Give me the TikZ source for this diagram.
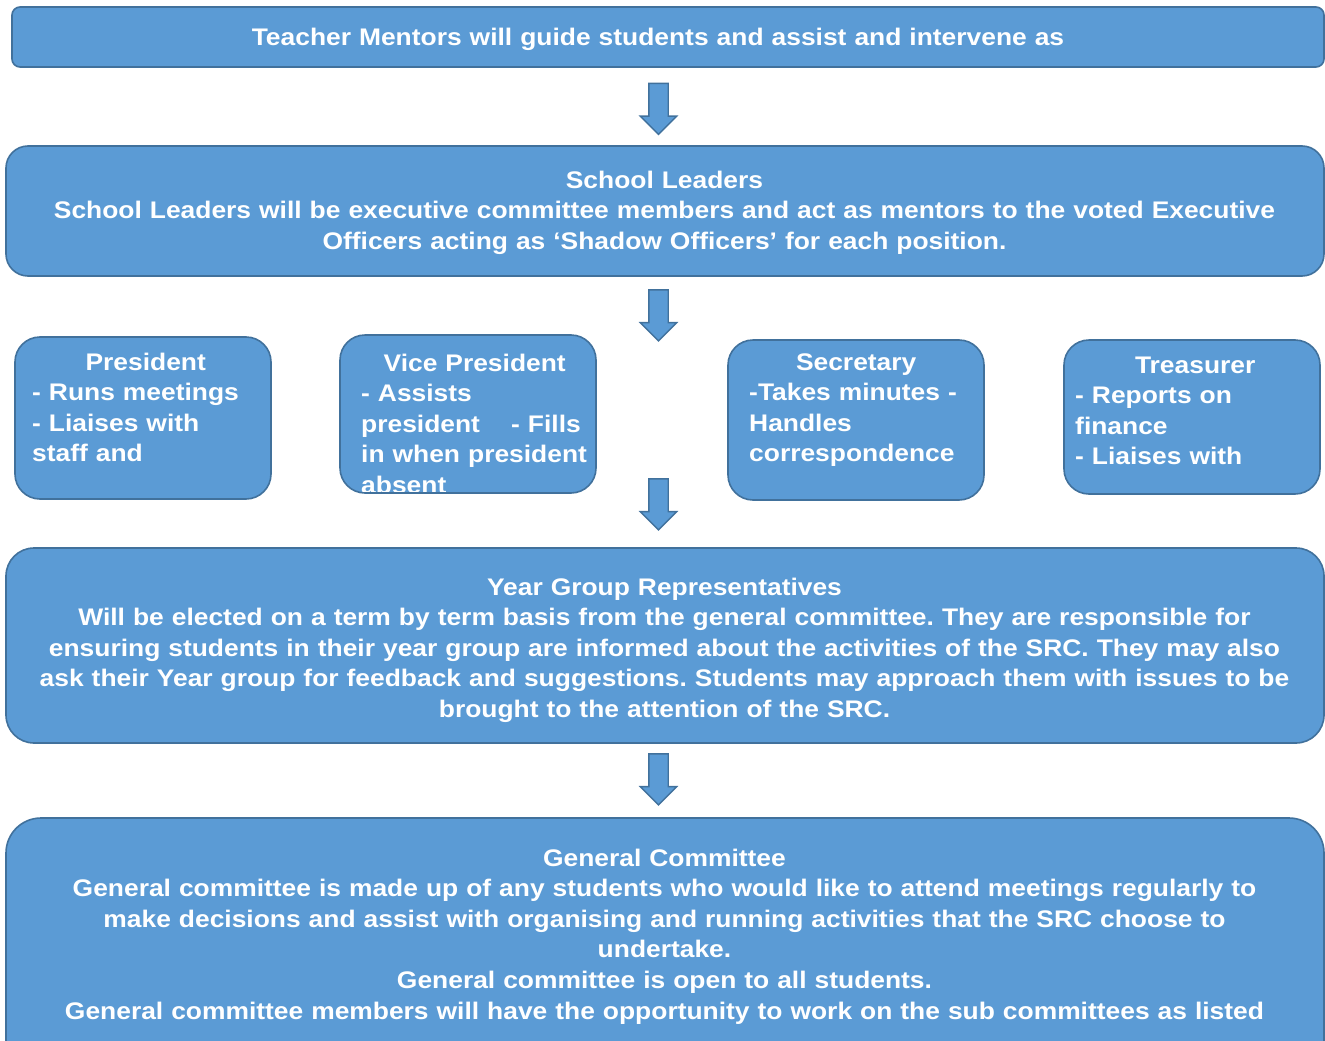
\documentclass[tikz,border=0pt]{standalone}
\usepackage{fontspec}
\setmainfont{Liberation Sans}[FakeStretch=1.10]
\usetikzlibrary{shapes.arrows}
\definecolor{boxfill}{HTML}{5B9BD5}
\definecolor{boxline}{HTML}{41719C}
\frenchspacing
\begin{document}
\begin{tikzpicture}[x=1pt,y=-1pt,
  box/.style={draw=boxline, fill=boxfill, line width=1.6pt, rounded corners=#1, inner sep=0pt},
  box/.default=22pt,
  blockarrow/.style={single arrow, draw=boxline, fill=boxfill, line width=1.4pt,
    minimum height=51pt, minimum width=35pt, single arrow head extend=8.5pt,
    single arrow head indent=0pt, inner xsep=0pt, inner ysep=9pt, rotate=-90},
  txt/.style={text=white, font=\bfseries\fontsize{24}{30.6}\selectfont, inner sep=0pt},
  bigtxt/.style={txt, anchor=base, text width=1318pt, align=center},
  offtxt/.style={txt, anchor=base west, text width=250pt, align=left}
]
\useasboundingbox (0,0) rectangle (1325,1041);
\clip (0,0) rectangle (1325,1041);

% boxes
\node[box=8pt, minimum width=1312pt, minimum height=60pt] (teach) at (668,37) {};
\node[box=22pt, minimum width=1318pt, minimum height=130pt] (lead) at (665,211) {};
\node[box=25pt, minimum width=256pt, minimum height=162pt] (pres) at (143,418) {};
\node[box=25pt, minimum width=256pt, minimum height=158pt] (vice) at (468,414) {};
\node[box=25pt, minimum width=256pt, minimum height=160pt] (sec) at (856,420) {};
\node[box=25pt, minimum width=256pt, minimum height=154pt] (treas) at (1192,417) {};
\node[box=28pt, minimum width=1318pt, minimum height=195pt] (year) at (665,645.5) {};
\node[box=35pt, minimum width=1318pt, minimum height=262pt] (gen) at (665,949) {};

% block arrows
\node[blockarrow] (a1) at (658.5,104) {};
\node[blockarrow] (a2) at (658.5,310.5) {};
\node[blockarrow] (a3) at (658.5,499.5) {};
\node[blockarrow] (a4) at (658.5,774.5) {};

% texts
\node[bigtxt] (teachtxt) at (658,46) {Teacher Mentors will guide students and assist and intervene as};
\node[bigtxt] (leadtxt) at (664.5,188) {School Leaders\\
School Leaders will be executive committee members and act as mentors to the voted Executive\\
Officers acting as ‘Shadow Officers’ for each position.};

\node[offtxt] (prestxt) at (32,370) {\makebox[227pt]{President}\\
- Runs meetings\\
- Liaises with\\
staff and};

\begin{scope}
\clip[rounded corners=23pt] ([shift={(2pt,2pt)}]vice.south west) rectangle ([shift={(-2pt,-2pt)}]vice.north east);
\node[offtxt] (vicetxt) at (361,371) {\makebox[227pt]{Vice President}\\
- Assists\\
\makebox[150pt][l]{president}- Fills\\
in when president\\
absent};
\end{scope}

\node[offtxt] (sectxt) at (749,370) {\makebox[214pt]{Secretary}\\
-Takes minutes -\\
Handles\\
correspondence};

\node[offtxt] (treastxt) at (1075,373) {\makebox[240pt]{Treasurer}\\
- Reports on\\
finance\\
- Liaises with};

\node[bigtxt] (yeartxt) at (664.5,595) {Year Group Representatives\\
Will be elected on a term by term basis from the general committee. They are responsible for\\
ensuring students in their year group are informed about the activities of the SRC. They may also\\
ask their Year group for feedback and suggestions. Students may approach them with issues to be\\
brought to the attention of the SRC.};

\node[bigtxt] (gentxt) at (664.5,866) {General Committee\\
General committee is made up of any students who would like to attend meetings regularly to\\
make decisions and assist with organising and running activities that the SRC choose to\\
undertake.\\
General committee is open to all students.\\
General committee members will have the opportunity to work on the sub committees as listed};
\end{tikzpicture}
\end{document}
